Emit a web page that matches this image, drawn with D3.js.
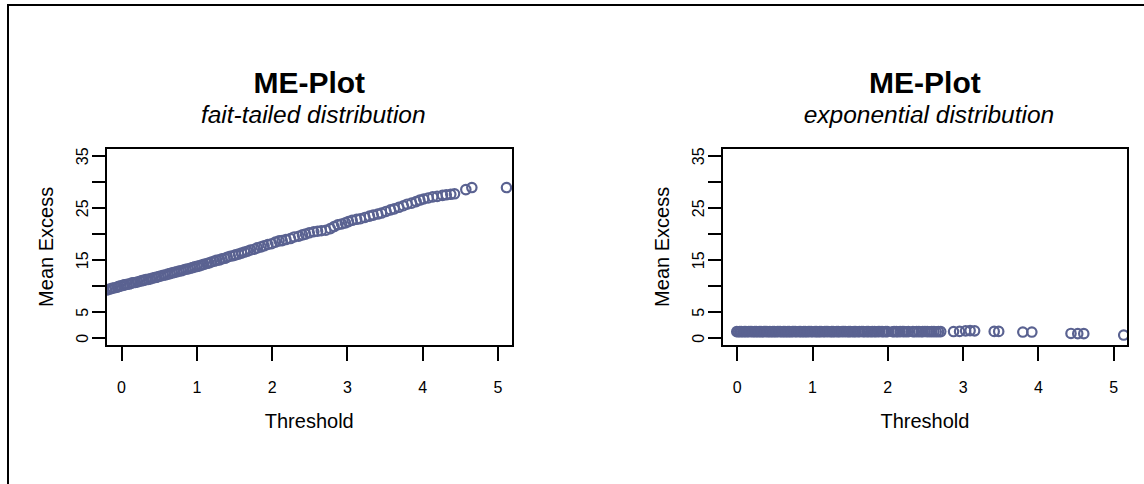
<!DOCTYPE html>
<html>
<head>
<meta charset="utf-8">
<script src="https://cdn.jsdelivr.net/npm/d3@7"></script>
<style>
  body { margin: 0; background: #fff; }
  svg { display: block; }
  text { font-family: "Liberation Sans", Arial, Helvetica, sans-serif; fill: #000; }
</style>
</head>
<body>
<svg id="chart" width="1144" height="484"></svg>
<script>
// Axis ticks and labels
const xTicks = [0, 1, 2, 3, 4, 5];
const yTicks = [0, 5, 10, 15, 20, 25, 30, 35];
const yTickLabels = [0, 5, 15, 25, 35];
const xDomain = [-0.2, 5.2];
const yDomain = [-1.5, 36.5];

const titles = ["ME-Plot", "ME-Plot"];
const subtitles = ["fait-tailed distribution", "exponential distribution"];
const xLabel = "Threshold";
const yLabel = "Mean Excess";

// Mean excess vs threshold, fat-tailed sample: [threshold, mean excess]
const fatTailed = [
  [-0.19,9.2],[-0.16,9.35],[-0.13,9.45],[-0.11,9.6],[-0.08,9.65],[-0.05,9.75],[-0.03,9.9],
  [0.00,10.0],[0.03,10.15],[0.05,10.2],[0.08,10.3],[0.11,10.35],[0.14,10.55],[0.16,10.6],
  [0.19,10.65],[0.22,10.75],[0.25,10.9],[0.28,11.0],[0.30,11.05],[0.33,11.2],[0.36,11.25],
  [0.39,11.35],[0.42,11.5],[0.45,11.6],[0.47,11.65],[0.50,11.8],[0.53,11.9],[0.56,12.05],
  [0.59,12.1],[0.62,12.25],[0.65,12.35],[0.68,12.5],[0.71,12.6],[0.74,12.7],[0.77,12.85],
  [0.80,12.9],[0.83,13.05],[0.86,13.2],[0.89,13.25],[0.92,13.4],[0.95,13.5],[0.98,13.65],
  [1.01,13.75],[1.04,13.85],[1.07,14.0],[1.10,14.15],[1.14,14.3],[1.17,14.4],[1.20,14.6],
  [1.24,14.75],[1.27,14.9],[1.31,15.0],[1.34,15.2],[1.38,15.3],[1.41,15.5],[1.45,15.7],
  [1.49,15.8],[1.52,15.95],[1.56,16.1],[1.60,16.3],[1.64,16.5],[1.68,16.65],[1.72,16.9],
  [1.77,17.05],[1.81,17.3],[1.86,17.5],[1.90,17.7],
  [1.95,17.95],[2.00,18.1],[2.05,18.4],[2.10,18.65],[2.14,18.7],[2.19,18.9],[2.25,19.1],
  [2.30,19.4],[2.36,19.55],[2.41,19.8],[2.45,19.95],[2.50,20.2],[2.56,20.4],[2.61,20.5],
  [2.66,20.6],[2.72,20.7],[2.78,21.0],[2.83,21.4],[2.88,21.75],[2.93,21.9],[2.98,22.1],
  [3.02,22.35],[3.07,22.6],[3.13,22.8],[3.18,22.9],[3.24,23.15],[3.30,23.4],[3.35,23.6],
  [3.41,23.8],[3.46,24.0],[3.52,24.3],[3.58,24.6],[3.63,24.8],[3.69,25.1],[3.75,25.4],
  [3.80,25.7],[3.86,25.9],[3.92,26.2],[3.97,26.5],[4.02,26.7],[4.08,26.9],[4.14,27.1],
  [4.20,27.2],[4.27,27.4],[4.32,27.5],[4.38,27.6],[4.43,27.7],
  [4.58,28.5],[4.66,28.9],[5.12,28.9]
];

// Mean excess vs threshold, exponential sample: [threshold, mean excess]
const exponential = [
  [0.00,1.20],[0.02,1.19],[0.04,1.21],[0.06,1.20],[0.08,1.18],[0.10,1.20],[0.12,1.21],[0.14,1.19],
  [0.16,1.20],[0.18,1.22],[0.20,1.20],[0.22,1.19],[0.24,1.21],[0.26,1.20],[0.28,1.18],[0.30,1.20],
  [0.32,1.21],[0.34,1.19],[0.36,1.20],[0.38,1.22],[0.40,1.21],[0.42,1.19],[0.44,1.20],[0.46,1.18],
  [0.48,1.20],[0.50,1.21],[0.52,1.19],[0.54,1.20],[0.56,1.22],[0.58,1.20],[0.60,1.19],[0.62,1.21],
  [0.64,1.20],[0.66,1.18],[0.68,1.20],[0.70,1.21],[0.72,1.19],[0.74,1.20],[0.76,1.22],[0.78,1.20],
  [0.80,1.19],[0.83,1.21],[0.85,1.20],[0.87,1.18],[0.89,1.20],[0.91,1.21],[0.93,1.19],[0.95,1.20],
  [0.97,1.22],[0.99,1.20],[1.01,1.19],[1.04,1.21],[1.06,1.20],[1.08,1.18],[1.10,1.20],[1.12,1.21],
  [1.15,1.19],[1.17,1.20],[1.19,1.22],[1.21,1.20],[1.24,1.19],[1.26,1.21],[1.28,1.20],[1.30,1.18],
  [1.33,1.20],[1.35,1.21],[1.37,1.19],[1.40,1.20],[1.42,1.22],[1.44,1.20],[1.47,1.19],[1.49,1.21],
  [1.51,1.20],[1.54,1.18],[1.56,1.20],[1.58,1.21],[1.61,1.19],[1.63,1.20],[1.66,1.22],[1.68,1.20],
  [1.70,1.19],[1.73,1.21],[1.75,1.20],[1.78,1.18],[1.80,1.20],[1.83,1.21],[1.85,1.19],[1.88,1.20],
  [1.90,1.22],[1.93,1.20],[1.95,1.19],[1.98,1.21],[2.00,1.20],[2.07,1.18],[2.09,1.20],[2.12,1.21],
  [2.14,1.19],[2.17,1.20],[2.20,1.22],[2.22,1.20],[2.25,1.19],[2.28,1.21],[2.34,1.20],[2.36,1.18],
  [2.39,1.20],[2.42,1.21],[2.45,1.19],[2.47,1.20],[2.50,1.22],[2.53,1.20],[2.56,1.19],[2.59,1.21],
  [2.62,1.20],[2.65,1.18],[2.68,1.20],[2.71,1.21],
  [2.88,1.22],[2.96,1.25],[3.04,1.35],[3.10,1.40],[3.16,1.35],[3.42,1.25],[3.48,1.25],
  [3.80,1.12],[3.92,1.12],[4.44,0.85],[4.53,0.82],[4.61,0.82],[5.14,0.55]
];

const series = [fatTailed, exponential];

const svg = d3.select("#chart");
const pointColor = "#5a6291";

// Outer frame
svg.append("rect")
  .attr("x", 7.5).attr("y", 5)
  .attr("width", 1400).attr("height", 800)
  .attr("fill", "none").attr("stroke", "#000").attr("stroke-width", 2)
  .attr("shape-rendering", "crispEdges");

const panelLeft = [106, 721.7];
const panelTop = 148;
const w = 406.5, h = 197.7;

series.forEach((data, i) => {
  const g = svg.append("g").attr("transform", `translate(${panelLeft[i]},${panelTop})`);
  const x = d3.scaleLinear().domain(xDomain).range([0, w]);
  const y = d3.scaleLinear().domain(yDomain).range([h, 0]);

  // Titles
  g.append("text").attr("x", w / 2).attr("y", -54.7)
    .attr("text-anchor", "middle").attr("font-size", 30).attr("font-weight", "bold")
    .text(titles[i]);
  g.append("text").attr("x", w / 2 + 4).attr("y", -25)
    .attr("text-anchor", "middle").attr("font-size", 24.5).attr("font-style", "italic")
    .text(subtitles[i]);

  // Points, clipped to the plot region
  const clipId = "clip" + i;
  g.append("clipPath").attr("id", clipId)
    .append("rect").attr("x", 0).attr("y", 0).attr("width", w).attr("height", h);
  g.append("g").attr("clip-path", `url(#${clipId})`)
    .selectAll("circle").data(data).join("circle")
    .attr("cx", d => x(d[0])).attr("cy", d => y(d[1]))
    .attr("r", 4.7)
    .attr("fill", "none").attr("stroke", pointColor).attr("stroke-width", 2.2);

  // X axis
  const gx = g.append("g").attr("transform", `translate(0,${h})`)
    .call(d3.axisBottom(x).tickValues(xTicks).tickSize(15).tickSizeOuter(0).tickFormat(d3.format("d")));
  gx.attr("font-family", null).attr("font-size", null);
  gx.select(".domain").remove();
  gx.selectAll(".tick line").attr("stroke", "#000").attr("stroke-width", 2)
    .attr("shape-rendering", "crispEdges");
  gx.selectAll(".tick text").attr("y", 47.6).attr("dy", null)
    .attr("font-size", 16).attr("fill", "#000");

  // Y axis with rotated labels
  const gy = g.append("g")
    .call(d3.axisLeft(y).tickValues(yTicks).tickSize(14).tickSizeOuter(0)
      .tickFormat(d => yTickLabels.includes(d) ? d : ""));
  gy.attr("font-family", null).attr("font-size", null);
  gy.select(".domain").remove();
  gy.selectAll(".tick line").attr("stroke", "#000").attr("stroke-width", 2)
    .attr("shape-rendering", "crispEdges");
  gy.selectAll(".tick text")
    .attr("x", 0).attr("y", -17.7).attr("dy", null)
    .attr("transform", "rotate(-90)")
    .attr("text-anchor", "middle")
    .attr("font-size", 16).attr("fill", "#000");

  // Plot box
  g.append("rect").attr("x", 0).attr("y", 0).attr("width", w).attr("height", h)
    .attr("fill", "none").attr("stroke", "#000").attr("stroke-width", 2)
    .attr("shape-rendering", "crispEdges");

  // Axis titles
  g.append("text").attr("x", w / 2).attr("y", h + 82.3)
    .attr("text-anchor", "middle").attr("font-size", 20)
    .text(xLabel);
  g.append("text")
    .attr("transform", `translate(${-52.7},${h / 2}) rotate(-90)`)
    .attr("text-anchor", "middle").attr("font-size", 20)
    .text(yLabel);
});
</script>
</body>
</html>
